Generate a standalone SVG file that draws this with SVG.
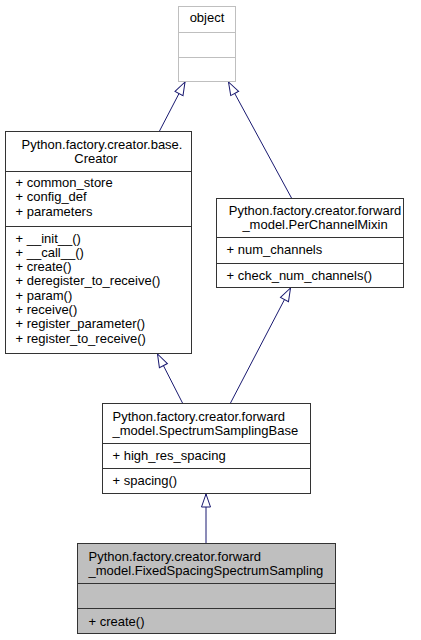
<svg xmlns="http://www.w3.org/2000/svg" width="421" height="640" viewBox="0 0 421 640">
<style>
.t{font-family:"Liberation Sans",Arial,Helvetica,sans-serif;font-size:13px;fill:#000}
.c{text-anchor:middle}
.box{fill:#fff;stroke:#333;stroke-width:1}
.ext{fill:#fff;stroke:#bfbfbf;stroke-width:1}
.main{fill:#bfbfbf;stroke:#333;stroke-width:1}
.dv{stroke:#333;stroke-width:1}
.dvx{stroke:#bfbfbf;stroke-width:1}
.e{stroke:#191970;stroke-width:1;fill:none;marker-end:url(#arr)}
</style>
<defs>
<marker id="arr" markerWidth="18" markerHeight="12" refX="14" refY="6" orient="auto" markerUnits="userSpaceOnUse" viewBox="0 0 18 12">
<path d="M1,1.5 L14,6 L1,10.5 Z" fill="#fff" stroke="#191970" stroke-width="1"/>
</marker>
</defs>
<g id="edges">
<line class="e" x1="159.5" y1="131" x2="185" y2="82"/>
<line class="e" x1="291.5" y1="198" x2="228.5" y2="82"/>
<line class="e" x1="182.5" y1="403" x2="157.5" y2="354"/>
<line class="e" x1="230.5" y1="403" x2="290.5" y2="288"/>
<line class="e" x1="206" y1="543" x2="206" y2="494"/>
</g>
<g id="object">
<rect class="ext" x="178.5" y="6.5" width="57" height="75"/>
<line class="dvx" x1="178.5" y1="32.5" x2="235.5" y2="32.5"/>
<line class="dvx" x1="178.5" y1="57.5" x2="235.5" y2="57.5"/>
<text class="t c" x="207" y="22">object</text>
</g>
<g id="Creator">
<rect class="box" x="5.5" y="131.5" width="186" height="222"/>
<line class="dv" x1="5.5" y1="171.5" x2="191.5" y2="171.5"/>
<line class="dv" x1="5.5" y1="226.5" x2="191.5" y2="226.5"/>
<text class="t c" x="102" y="149">Python.factory.creator.base.</text>
<text class="t c" x="96" y="163">Creator</text>
<text class="t" x="15.5" y="187">+ common_store</text>
<text class="t" x="15.5" y="201.3">+ config_def</text>
<text class="t" x="15.5" y="215.6">+ parameters</text>
<text class="t" x="15.5" y="242.5">+ __init__()</text>
<text class="t" x="15.5" y="256.8">+ __call__()</text>
<text class="t" x="15.5" y="271.1">+ create()</text>
<text class="t" x="15.5" y="285.4">+ deregister_to_receive()</text>
<text class="t" x="15.5" y="299.7">+ param()</text>
<text class="t" x="15.5" y="314">+ receive()</text>
<text class="t" x="15.5" y="328.3">+ register_parameter()</text>
<text class="t" x="15.5" y="342.6">+ register_to_receive()</text>
</g>
<g id="PerChannelMixin">
<rect class="box" x="216.5" y="198.5" width="187" height="89"/>
<line class="dv" x1="216.5" y1="237.5" x2="403.5" y2="237.5"/>
<line class="dv" x1="216.5" y1="263.5" x2="403.5" y2="263.5"/>
<text class="t c" x="315" y="215">Python.factory.creator.forward</text>
<text class="t c" x="315" y="229.3">_model.PerChannelMixin</text>
<text class="t" x="226.5" y="254">+ num_channels</text>
<text class="t" x="226.5" y="280">+ check_num_channels()</text>
</g>
<g id="SpectrumSamplingBase">
<rect class="box" x="102.5" y="403.5" width="208" height="90"/>
<line class="dv" x1="102.5" y1="443.5" x2="310.5" y2="443.5"/>
<line class="dv" x1="102.5" y1="468.5" x2="310.5" y2="468.5"/>
<text class="t" x="112.5" y="420.5">Python.factory.creator.forward</text>
<text class="t" x="112.5" y="434.8">_model.SpectrumSamplingBase</text>
<text class="t" x="112.5" y="460">+ high_res_spacing</text>
<text class="t" x="112.5" y="485">+ spacing()</text>
</g>
<g id="FixedSpacingSpectrumSampling">
<rect class="main" x="77.5" y="543.5" width="258" height="90"/>
<line class="dv" x1="77.5" y1="583.5" x2="335.5" y2="583.5"/>
<line class="dv" x1="77.5" y1="608.5" x2="335.5" y2="608.5"/>
<text class="t" x="88.5" y="560.5">Python.factory.creator.forward</text>
<text class="t" x="88.5" y="574.8">_model.FixedSpacingSpectrumSampling</text>
<text class="t" x="88.5" y="625.5">+ create()</text>
</g>
</svg>
